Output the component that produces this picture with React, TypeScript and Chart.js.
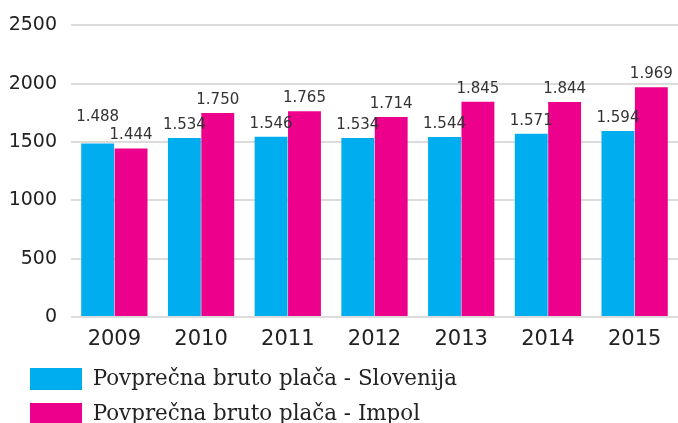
import React, { useEffect, useRef } from "react";
import { Chart, registerables } from "chart.js";

Chart.register(...registerables);

const categories = ["2009", "2010", "2011", "2012", "2013", "2014", "2015"];
const slovenija = [1488, 1534, 1546, 1534, 1544, 1571, 1594];
const impol = [1444, 1750, 1765, 1714, 1845, 1844, 1969];
const seriesNames = [
  "Povprečna bruto plača - Slovenija",
  "Povprečna bruto plača - Impol",
];
const seriesColors = ["#00AEEF", "#EC008C"];
const yMin = 0;
const yMax = 2500;
const yStep = 500;

const fmt = (v: number) =>
  v >= 1000
    ? `${Math.floor(v / 1000)}.${String(v % 1000).padStart(3, "0")}`
    : String(v);

const valueLabels = {
  id: "valueLabels",
  afterDatasetsDraw(chart: any) {
    const ctx = chart.ctx;
    ctx.save();
    ctx.font = "15px 'DejaVu Sans'";
    ctx.fillStyle = "#333333";
    ctx.textAlign = "center";
    ctx.textBaseline = "middle";
    const m0 = chart.getDatasetMeta(0);
    const m1 = chart.getDatasetMeta(1);
    categories.forEach((_, i) => {
      const b0 = m0.data[i];
      const b1 = m1.data[i];
      const t0 = fmt(slovenija[i]);
      const t1 = fmt(impol[i]);
      const y1 = b1.y - 13;
      let y0 = b0.y - 13;
      const w0 = ctx.measureText(t0).width;
      const w1 = ctx.measureText(t1).width;
      const overlapX = b0.x + w0 / 2 > b1.x - w1 / 2;
      if (overlapX && Math.abs(y0 - y1) < 16) {
        y0 = Math.min(y0, y1 - 18);
      }
      ctx.fillText(t0, b0.x, y0);
      ctx.fillText(t1, b1.x, y1);
    });
    ctx.restore();
  },
};

// indent the legend rows from the left edge
const legendIndent = {
  id: "legendIndent",
  afterLayout(chart: any) {
    if (chart.legend) {
      chart.legend.left += 17;
      chart.legend.right += 17;
    }
  },
};

export default function App() {
  const ref = useRef<HTMLCanvasElement | null>(null);

  useEffect(() => {
    if (!ref.current) return;
    const chart = new Chart(ref.current, {
      type: "bar",
      data: {
        labels: categories,
        datasets: [
          {
            label: seriesNames[0],
            data: slovenija,
            backgroundColor: seriesColors[0],
            borderWidth: 0,
          },
          {
            label: seriesNames[1],
            data: impol,
            backgroundColor: seriesColors[1],
            borderWidth: 0,
          },
        ],
      },
      options: {
        responsive: false,
        animation: false,
        layout: { padding: { left: 0, top: 22, right: 0, bottom: 0 } },
        datasets: {
          bar: { categoryPercentage: 0.77, barPercentage: 0.985 },
        },
        scales: {
          x: {
            afterFit: (s: any) => {
              s.height = 38;
            },
            grid: { display: false, drawTicks: false },
            border: { display: false },
            ticks: {
              color: "#222222",
              font: { family: "'DejaVu Sans'", size: 21, lineHeight: 1.2 },
              padding: 10,
            },
          },
          y: {
            min: yMin,
            max: yMax,
            afterFit: (s: any) => {
              s.width = 71;
            },
            grid: {
              color: "#DCDCDC",
              lineWidth: 2,
              drawTicks: false,
            },
            border: { display: false },
            ticks: {
              stepSize: yStep,
              color: "#222222",
              font: { family: "'DejaVu Sans'", size: 19 },
              padding: 14,
              callback: (v: any) => String(v),
            },
          },
        },
        plugins: {
          legend: {
            position: "bottom",
            align: "start",
            labels: {
              boxWidth: 52,
              boxHeight: 22,
              padding: 13,
              color: "#222222",
              font: { family: "'DejaVu Serif'", size: 21.4 },
            },
          },
          tooltip: { enabled: false },
        },
      },
      plugins: [valueLabels, legendIndent],
    });
    return () => chart.destroy();
  }, []);

  return (
    <div
      style={{
        position: "absolute",
        left: 0,
        top: 0,
        width: 678,
        height: 423,
        overflow: "hidden",
        background: "#ffffff",
      }}
    >
      <canvas ref={ref} width={678} height={435} style={{ display: "block" }} />
    </div>
  );
}
